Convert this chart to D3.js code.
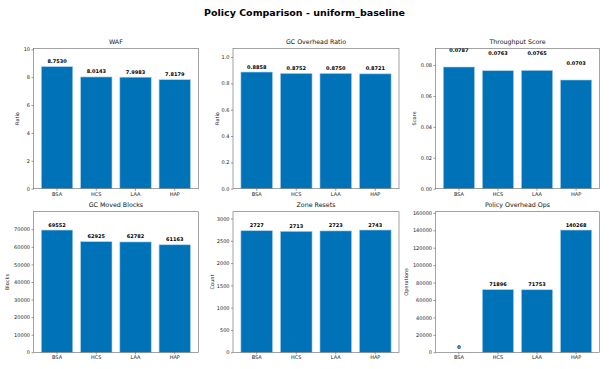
<!DOCTYPE html>
<html><head><meta charset="utf-8">
<script src="https://cdn.jsdelivr.net/npm/d3@7"></script>
<style>body{margin:0;background:#fff}svg{display:block;font-family:"DejaVu Sans",sans-serif}</style>
</head><body><svg id="c" width="609" height="369"></svg>
<script>
const categories = ["BSA","HCS","LAA","HAP"];
const figTitle = "Policy Comparison - uniform_baseline";
const panelTitles = ["WAF","GC Overhead Ratio","Throughput Score","GC Moved Blocks","Zone Resets","Policy Overhead Ops"];
const yLabels = ["Ratio","Ratio","Score","Blocks","Count","Operations"];
const wafValues = [8.7530, 8.0143, 7.9983, 7.8179];
const gcRatioValues = [0.8858, 0.8752, 0.8750, 0.8721];
const throughputValues = [0.0787, 0.0763, 0.0765, 0.0703];
const gcMovedValues = [69552, 62925, 62782, 61163];
const zoneResetValues = [2727, 2713, 2723, 2743];
const policyOpsValues = [0, 71896, 71753, 140268];
const yMaxValues = [10.07, 1.066, 0.0908, 79985, 3154, 161308];
const wafTicks = [0,2,4,6,8,10];
const gcRatioTicks = [0,0.2,0.4,0.6,0.8,1.0];
const throughputTicks = [0,0.02,0.04,0.06,0.08];
const gcMovedTicks = [0,10000,20000,30000,40000,50000,60000,70000];
const zoneResetTicks = [0,500,1000,1500,2000,2500,3000];
const policyOpsTicks = [0,20000,40000,60000,80000,100000,120000,140000,160000];
const labelLift = [0,0,0.01,0,0,0];

const series = [wafValues,gcRatioValues,throughputValues,gcMovedValues,zoneResetValues,policyOpsValues];
const ticks = [wafTicks,gcRatioTicks,throughputTicks,gcMovedTicks,zoneResetTicks,policyOpsTicks];
const tickFmt = [d3.format("d"),d3.format(".1f"),d3.format(".2f"),d3.format("d"),d3.format("d"),d3.format("d")];
const valFmt = [d3.format(".4f"),d3.format(".4f"),d3.format(".4f"),d3.format("d"),d3.format("d"),d3.format("d")];

const cols = [[33.5,198.3],[233,399],[435.5,599.5]];
const rows = [[48.3,188.7],[211.7,352.3]];
const ylabX = [17.3,216.7,414,7.3,212.3,405.7];

const svg = d3.select("#c");
svg.append("text").attr("x",304.5).attr("y",15.5).attr("text-anchor","middle")
  .attr("font-size",9.5).attr("font-weight","bold").text(figTitle);

series.forEach((vals,i)=>{
  const r = rows[Math.floor(i/3)], c = cols[i%3];
  const x = d3.scaleBand().domain(categories).range(c).paddingInner(0.2).paddingOuter(0.2);
  const y = d3.scaleLinear().domain([0,yMaxValues[i]]).range([r[1],r[0]]);
  const g = svg.append("g");
  g.selectAll("rect.bar").data(vals).join("rect").attr("class","bar")
    .attr("x",(d,j)=>x(categories[j])).attr("width",x.bandwidth())
    .attr("y",d=>y(d)).attr("height",d=>y(0)-y(d))
    .attr("fill","#0072b8").attr("stroke","#a9d0ee").attr("stroke-width",0.6);
  g.selectAll("text.val").data(vals).join("text").attr("class","val")
    .attr("x",(d,j)=>x(categories[j])+x.bandwidth()/2)
    .attr("y",d=> labelLift[i] ? y(d+labelLift[i]) : y(d)-3.5)
    .attr("text-anchor","middle").attr("font-size",5).attr("font-weight","bold")
    .text(d=>valFmt[i](d));
  const ax = g.append("g").attr("transform",`translate(${c[0]},0)`)
    .call(d3.axisLeft(y).tickValues(ticks[i]).tickFormat(tickFmt[i]).tickSize(2).tickPadding(1.5));
  ax.select(".domain").remove();
  ax.selectAll("text").attr("font-size",5).attr("fill","#222").attr("font-family","DejaVu Sans");
  ax.selectAll("line").attr("stroke","#333").attr("stroke-width",0.5);
  const bx = g.append("g").attr("transform",`translate(0,${r[1]})`)
    .call(d3.axisBottom(x).tickSize(2).tickPadding(1.5));
  bx.select(".domain").remove();
  bx.selectAll("text").attr("font-size",5).attr("fill","#222").attr("font-family","DejaVu Sans");
  bx.selectAll("line").attr("stroke","#333").attr("stroke-width",0.5);
  g.append("rect").attr("x",c[0]).attr("y",r[0]).attr("width",c[1]-c[0]).attr("height",r[1]-r[0])
    .attr("fill","none").attr("stroke","#666").attr("stroke-width",0.6);
  g.append("text").attr("x",(c[0]+c[1])/2).attr("y",r[0]-4.5).attr("text-anchor","middle")
    .attr("font-size",6.3).attr("fill","#111").text(panelTitles[i]);
  g.append("text").attr("transform",`translate(${ylabX[i]+1.8},${(r[0]+r[1])/2}) rotate(-90)`)
    .attr("text-anchor","middle").attr("font-size",5).attr("fill","#222").text(yLabels[i]);
});
</script></body></html>
